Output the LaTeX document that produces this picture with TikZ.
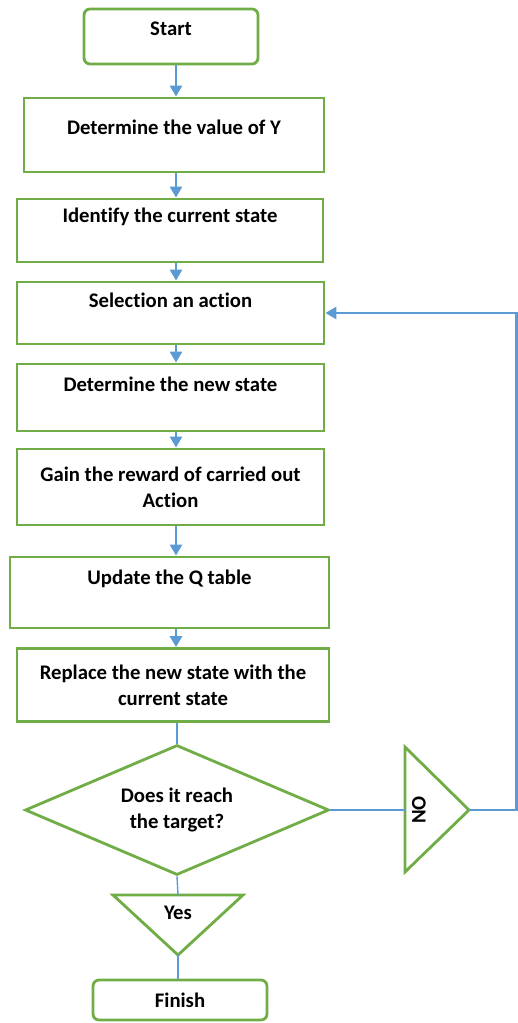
\documentclass[tikz,border=0pt]{standalone}
\usepackage{fontspec}
\setmainfont{Carlito}[Ligatures=NoCommon]
\usetikzlibrary{positioning,arrows.meta,calc,shapes.geometric}
\definecolor{figgreen}{HTML}{70AD47}
\definecolor{figblue}{HTML}{5B9BD5}
\tikzset{
  fig/.style={font=\bfseries\fontsize{11.8}{15}\selectfont},
  box/.style={draw=figgreen,line width=1.6pt,align=center,inner ysep=0pt,inner xsep=2pt},
  endbox/.style={box,rounded corners=0.12cm},
  ln/.style={-{Triangle[length=2.2mm,width=2.4mm]},figblue,line width=1.5pt},
  lnt/.style={figblue,line width=0.8pt},
  tri/.style={draw=figgreen,line width=1.6pt,line join=miter},
}

\begin{document}
\begin{tikzpicture}[fig,x=0.02cm,y=-0.02cm,
  ht/.style 2 args={text height=#1cm,text depth=#2cm}]
\useasboundingbox (0,0) rectangle (517,1023);

\node[endbox,minimum width=3.48cm,ht={0.54}{0.56}] (start) at (171,36.5) {Start};
\node[box,minimum width=6.00cm,ht={0.74}{0.74}] (value) at (174,135) {Determine the value of Y};
\node[box,minimum width=6.12cm,ht={0.48}{0.78}] (ident) at (170,230.5) {Identify the current state};
\node[box,minimum width=6.14cm,ht={0.50}{0.74}] (select) at (170.5,313) {Selection an action};
\node[box,minimum width=6.14cm,ht={0.54}{0.80}] (newst) at (170.5,397.5) {Determine the new state};
\node[box,minimum width=6.14cm,minimum height=1.52cm] (reward) at (170.5,487) {Gain the reward of carried out\\Action};
\node[box,minimum width=6.38cm,ht={0.54}{0.88}] (update) at (169.5,592.5) {Update the Q table};
\node[box,minimum width=6.24cm,minimum height=1.46cm] (replace) at (173,685) {Replace the new state with the\\current state};
\node[diamond,aspect=2.34,draw=figgreen,line width=1.6pt,align=center,inner sep=0pt,
      minimum width=6.08cm,minimum height=2.6cm] (reach) at (177,810) {Does it reach\\the target?};
\node[endbox,minimum width=3.48cm,minimum height=0.8cm] (finish) at (180,1000) {Finish};

% answer triangles
\draw[tri] (405,747) -- (469,810) coordinate (notip) -- (405,872) -- cycle;
\coordinate (noin) at (405,810);
\node[rotate=90,inner sep=1pt] (no) at (419,810) {NO};
\draw[tri] (113,895) -- (243,895) -- (178,955) coordinate (yestip) -- cycle;
\coordinate (yesin) at (178,895);
\node[inner sep=1pt] (yes) at (178,913) {Yes};

\coordinate (axis) at (176,0);
\coordinate (loop) at (516.5,0);

\draw[ln] (start.south -| axis) -- (value.north -| axis);
\draw[ln] (value.south -| axis) -- (ident.north -| axis);
\draw[ln] (ident.south -| axis) -- (select.north -| axis);
\draw[ln] (select.south -| axis) -- (newst.north -| axis);
\draw[ln] (newst.south -| axis) -- (reward.north -| axis);
\draw[ln] (reward.south -| axis) -- (update.north -| axis);
\draw[ln] (update.south -| axis) -- (replace.north -| axis);
\draw[lnt] (replace.south -| reach) -- (reach.north);
\draw[lnt] (reach.south) -- (yesin);
\draw[lnt] (yestip) -- (finish.north -| yestip);
\draw[lnt] (reach.east) -- (noin);
\draw[ln] (notip) -- (notip -| loop) -- (select.east -| loop) -- (select.east);

\end{tikzpicture}
\end{document}
